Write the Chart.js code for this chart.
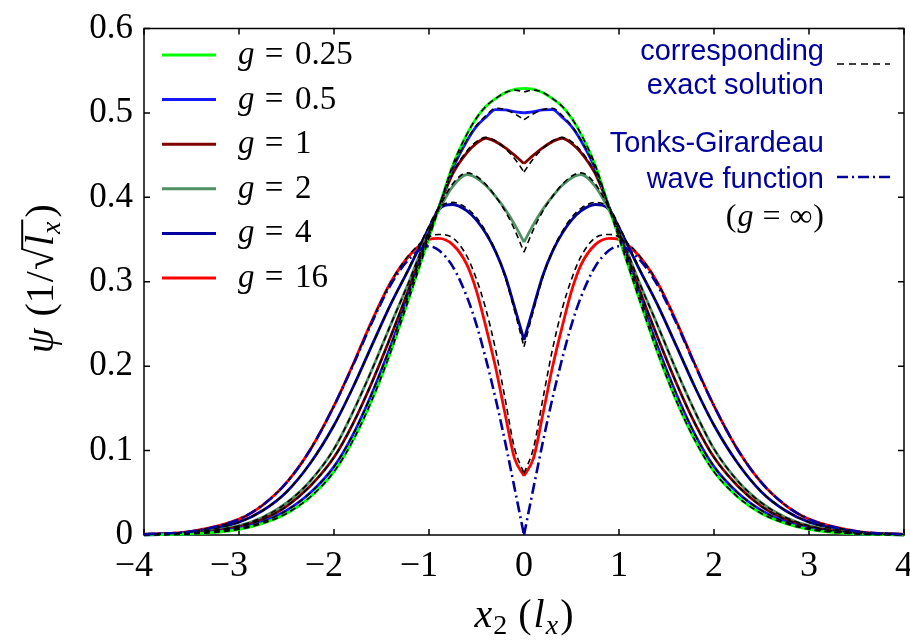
<!DOCTYPE html>
<html><head><meta charset="utf-8">
<script src="https://cdn.jsdelivr.net/npm/chart.js@4/dist/chart.umd.min.js"></script>
<style>html,body{margin:0;padding:0;background:#fff}canvas{display:block}</style>
</head><body>
<canvas id="c" width="910" height="641"></canvas>
<script>
// ---------- data ----------
const xGrid = [-4, -3.5, -3, -2.75, -2.5, -2.25, -2, -1.8, -1.6, -1.4, -1.2, -1, -0.9, -0.75, -0.6, -0.5, -0.4, -0.3, -0.2, -0.1, 0,
               0.1, 0.2, 0.3, 0.4, 0.5, 0.6, 0.75, 0.9, 1, 1.2, 1.4, 1.6, 1.8, 2, 2.25, 2.5, 2.75, 3, 3.5, 4];
const gLabels = ['0.25', '0.5', '1', '2', '4', '16'];
const xTicks = [-4, -3, -2, -1, 0, 1, 2, 3, 4];
const yTicks = [0, 0.1, 0.2, 0.3, 0.4, 0.5, 0.6];

const psi_g025 = [0.0002, 0.0013, 0.0068, 0.0138, 0.0255, 0.045, 0.075, 0.112, 0.160, 0.218, 0.284, 0.352, 0.386, 0.438, 0.475, 0.494, 0.508, 0.517, 0.524, 0.528, 0.529,
                  0.528, 0.524, 0.517, 0.508, 0.494, 0.475, 0.438, 0.386, 0.352, 0.284, 0.218, 0.160, 0.112, 0.075, 0.045, 0.0255, 0.0138, 0.0068, 0.0013, 0.0002];
const exact_g025 = [0.0002, 0.0013, 0.0068, 0.0138, 0.0255, 0.045, 0.075, 0.112, 0.160, 0.218, 0.284, 0.352, 0.386, 0.438, 0.475, 0.494, 0.508, 0.517, 0.524, 0.527, 0.525,
                  0.527, 0.524, 0.517, 0.508, 0.494, 0.475, 0.438, 0.386, 0.352, 0.284, 0.218, 0.160, 0.112, 0.075, 0.045, 0.0255, 0.0138, 0.0068, 0.0013, 0.0002];

const psi_g05 = [0.0002, 0.0015, 0.0079, 0.0155, 0.029, 0.050, 0.081, 0.119, 0.168, 0.225, 0.289, 0.355, 0.387, 0.434, 0.467, 0.484, 0.495, 0.504, 0.5035, 0.5015, 0.500,
                 0.5015, 0.5035, 0.504, 0.495, 0.484, 0.467, 0.434, 0.387, 0.355, 0.289, 0.225, 0.168, 0.119, 0.081, 0.050, 0.029, 0.0155, 0.0079, 0.0015, 0.0002];
const exact_g05 = [0.0002, 0.0015, 0.0079, 0.0155, 0.029, 0.050, 0.081, 0.119, 0.168, 0.225, 0.289, 0.355, 0.387, 0.435, 0.468, 0.485, 0.497, 0.5055, 0.504, 0.499, 0.492,
                 0.499, 0.504, 0.5055, 0.497, 0.485, 0.468, 0.435, 0.387, 0.355, 0.289, 0.225, 0.168, 0.119, 0.081, 0.050, 0.029, 0.0155, 0.0079, 0.0015, 0.0002];

const psi_g1 = [0.0003, 0.0020, 0.0095, 0.0185, 0.034, 0.058, 0.092, 0.132, 0.181, 0.236, 0.295, 0.358, 0.387, 0.428, 0.453, 0.464, 0.470, 0.466, 0.459, 0.450, 0.440,
                0.450, 0.459, 0.466, 0.470, 0.464, 0.453, 0.428, 0.387, 0.358, 0.295, 0.236, 0.181, 0.132, 0.092, 0.058, 0.034, 0.0185, 0.0095, 0.0020, 0.0003];
const exact_g1 = [0.0003, 0.0020, 0.0095, 0.0185, 0.034, 0.058, 0.092, 0.132, 0.181, 0.236, 0.295, 0.358, 0.388, 0.429, 0.455, 0.466, 0.471, 0.467, 0.458, 0.446, 0.430,
                0.446, 0.458, 0.467, 0.471, 0.466, 0.455, 0.429, 0.388, 0.358, 0.295, 0.236, 0.181, 0.132, 0.092, 0.058, 0.034, 0.0185, 0.0095, 0.0020, 0.0003];

const psi_g2 = [0.0004, 0.0024, 0.011, 0.021, 0.038, 0.064, 0.102, 0.146, 0.196, 0.250, 0.303, 0.360, 0.384, 0.413, 0.427, 0.423, 0.414, 0.401, 0.386, 0.368, 0.347,
                0.368, 0.386, 0.401, 0.414, 0.423, 0.427, 0.413, 0.384, 0.360, 0.303, 0.250, 0.196, 0.146, 0.102, 0.064, 0.038, 0.021, 0.011, 0.0024, 0.0004];
const exact_g2 = [0.0004, 0.0024, 0.011, 0.021, 0.038, 0.064, 0.102, 0.146, 0.196, 0.250, 0.303, 0.361, 0.386, 0.416, 0.429, 0.425, 0.415, 0.401, 0.384, 0.362, 0.335,
                0.362, 0.384, 0.401, 0.415, 0.425, 0.429, 0.416, 0.386, 0.361, 0.303, 0.250, 0.196, 0.146, 0.102, 0.064, 0.038, 0.021, 0.011, 0.0024, 0.0004];

const psi_g4 = [0.0006, 0.0033, 0.0152, 0.029, 0.051, 0.085, 0.130, 0.175, 0.225, 0.274, 0.318, 0.364, 0.385, 0.3915, 0.384, 0.373, 0.357, 0.336, 0.308, 0.270, 0.231,
                0.270, 0.308, 0.336, 0.357, 0.373, 0.384, 0.3915, 0.385, 0.364, 0.318, 0.274, 0.225, 0.175, 0.130, 0.085, 0.051, 0.029, 0.0152, 0.0033, 0.0006];
const exact_g4 = [0.0006, 0.0033, 0.0152, 0.029, 0.051, 0.085, 0.130, 0.175, 0.225, 0.274, 0.319, 0.366, 0.387, 0.394, 0.387, 0.376, 0.359, 0.337, 0.306, 0.266, 0.223,
                0.266, 0.306, 0.337, 0.359, 0.376, 0.387, 0.394, 0.387, 0.366, 0.319, 0.274, 0.225, 0.175, 0.130, 0.085, 0.051, 0.029, 0.0152, 0.0033, 0.0006];

const psi_g16 = [0.0008, 0.0043, 0.0188, 0.0355, 0.062, 0.101, 0.153, 0.202, 0.254, 0.300, 0.332, 0.350, 0.3515, 0.344, 0.320, 0.289, 0.246, 0.199, 0.144, 0.091, 0.070,
                 0.091, 0.144, 0.199, 0.246, 0.289, 0.320, 0.344, 0.3515, 0.350, 0.332, 0.300, 0.254, 0.202, 0.153, 0.101, 0.062, 0.0355, 0.0188, 0.0043, 0.0008];
const exact_g16 = [0.0008, 0.0043, 0.0188, 0.0355, 0.062, 0.101, 0.153, 0.202, 0.254, 0.300, 0.333, 0.353, 0.356, 0.352, 0.330, 0.303, 0.267, 0.220, 0.162, 0.103, 0.073,
                 0.103, 0.162, 0.220, 0.267, 0.303, 0.330, 0.352, 0.356, 0.353, 0.333, 0.300, 0.254, 0.202, 0.153, 0.101, 0.062, 0.0355, 0.0188, 0.0043, 0.0008];

const psi_TG = [0.0008, 0.0043, 0.0188, 0.0355, 0.062, 0.101, 0.153, 0.201, 0.252, 0.297, 0.328, 0.342, 0.3375, 0.318, 0.282, 0.249, 0.208, 0.162, 0.111, 0.056, 0,
                0.056, 0.111, 0.162, 0.208, 0.249, 0.282, 0.318, 0.3375, 0.342, 0.328, 0.297, 0.252, 0.201, 0.153, 0.101, 0.062, 0.0355, 0.0188, 0.0043, 0.0008];

// ---------- styles ----------
const solidSeries = [psi_g025, psi_g05, psi_g1, psi_g2, psi_g4, psi_g16];
const exactSeries = [exact_g025, exact_g05, exact_g1, exact_g2, exact_g4, exact_g16];
const colors = ['#00ff00', '#1717ff', '#800000', '#4f9162', '#00009f', '#ff0000'];
const navy = '#00009f';
const SERIF = '"Liberation Serif", "Times New Roman", serif';
const SANS = '"Liberation Sans", Arial, sans-serif';

function halves(vals) {
  const left = [], right = [];
  xGrid.forEach((x, i) => {
    if (x <= 0) left.push({x: x, y: vals[i]});
    if (x >= 0) right.push({x: x, y: vals[i]});
  });
  return [left, right];
}

const datasets = [];
function addCurve(vals, style) {
  halves(vals).forEach(d => datasets.push(Object.assign({data: d, pointRadius: 0, fill: false,
    cubicInterpolationMode: 'monotone', clip: false}, style)));
}
solidSeries.forEach((s, i) => addCurve(s, {borderColor: colors[i], borderWidth: 2.8, order: 3}));
exactSeries.forEach(s => addCurve(s, {borderColor: '#000', borderWidth: 1.6, borderDash: [6, 4], order: 2}));
addCurve(psi_TG, {borderColor: navy, borderWidth: 2.6, borderDash: [11, 4, 2, 4], order: 1});

function drawPieces(ctx, pieces, startX, baseY) {
  let xx = startX;
  pieces.forEach(p => {
    xx += (p.gapBefore || 0);
    ctx.font = p.f;
    ctx.fillText(p.t, xx, baseY + (p.dy || 0));
    p.x0 = xx;
    p.m = ctx.measureText(p.t);
    xx += p.m.width;
    p.x1 = xx;
  });
  return xx;
}
function piecesWidth(ctx, pieces) {
  let w = 0;
  pieces.forEach(p => { ctx.font = p.f; w += (p.gapBefore || 0) + ctx.measureText(p.t).width; });
  return w;
}

const decor = {
  id: 'decor',
  beforeDatasetsDraw(chart) {
    const {ctx, chartArea: a, scales: {x, y}} = chart;
    ctx.save();
    ctx.strokeStyle = '#000';
    ctx.lineWidth = 1.5;
    ctx.strokeRect(a.left, a.top, a.right - a.left, a.bottom - a.top);
    ctx.beginPath();
    xTicks.forEach(v => {
      const px = x.getPixelForValue(v);
      ctx.moveTo(px, a.bottom); ctx.lineTo(px, a.bottom - 6);
      ctx.moveTo(px, a.top); ctx.lineTo(px, a.top + 6);
    });
    yTicks.forEach(v => {
      const py = y.getPixelForValue(v);
      ctx.moveTo(a.left, py); ctx.lineTo(a.left + 6, py);
      ctx.moveTo(a.right, py); ctx.lineTo(a.right - 6, py);
    });
    ctx.stroke();
    ctx.restore();
  },
  afterDraw(chart) {
    const {ctx, chartArea: a, scales: {x}} = chart;
    ctx.save();
    ctx.fillStyle = '#000';
    ctx.textBaseline = 'alphabetic';

    // x tick labels (digit centred under tick, minus hanging left)
    ctx.font = '36px ' + SERIF;
    ctx.textAlign = 'right';
    xTicks.forEach(v => {
      const digits = String(Math.abs(v));
      const lab = v < 0 ? '\u2212' + digits : digits;
      const dw = ctx.measureText(digits).width;
      ctx.fillText(lab, x.getPixelForValue(v) + dw / 2, a.bottom + 41);
    });
    ctx.textAlign = 'left';

    // x axis title
    const xt = [
      {t: 'x', f: 'italic 40px ' + SERIF},
      {t: '2', f: '28px ' + SERIF, dy: 7, gapBefore: 1},
      {t: '(', f: '40px ' + SERIF, gapBefore: 11},
      {t: 'l', f: 'italic 40px ' + SERIF, gapBefore: 2},
      {t: 'x', f: 'italic 28px ' + SERIF, dy: 7, gapBefore: 1},
      {t: ')', f: '40px ' + SERIF, gapBefore: 2}
    ];
    const xcx = (a.left + a.right) / 2;
    drawPieces(ctx, xt, xcx - piecesWidth(ctx, xt) / 2, 627);

    // y axis title (rotated)
    ctx.save();
    ctx.translate(53, (a.top + a.bottom) / 2 - 3);
    ctx.rotate(-Math.PI / 2);
    const yt = [
      {t: '\u03C8', f: 'italic 40px ' + SERIF},
      {t: '(', f: '40px ' + SERIF, gapBefore: 12},
      {t: '1', f: '40px ' + SERIF},
      {t: '/', f: '40px ' + SERIF, gapBefore: 1},
      {t: '\u221A', f: '40px ' + SERIF, gapBefore: 1},
      {t: 'l', f: 'italic 40px ' + SERIF, gapBefore: 2},
      {t: 'x', f: 'italic 28px ' + SERIF, dy: 7, gapBefore: 1},
      {t: ')', f: '40px ' + SERIF, gapBefore: 4}
    ];
    drawPieces(ctx, yt, -piecesWidth(ctx, yt) / 2, 0);
    const rad = yt[4];
    const barY = -rad.m.actualBoundingBoxAscent + 1.2;
    ctx.lineWidth = 2;
    ctx.strokeStyle = '#000';
    ctx.beginPath();
    ctx.moveTo(rad.x1 - 1.5, barY);
    ctx.lineTo(yt[6].x1 + 2, barY);
    ctx.stroke();
    ctx.restore();

    // left legend
    gLabels.forEach((g, i) => {
      const ly = 55 + i * 44.6;
      ctx.save();
      ctx.strokeStyle = colors[i];
      ctx.lineWidth = 3;
      ctx.beginPath(); ctx.moveTo(162, ly); ctx.lineTo(216, ly); ctx.stroke();
      ctx.restore();
      ctx.font = 'italic 33px ' + SERIF;
      ctx.textAlign = 'left';
      ctx.fillText('g', 238, ly + 9);
      ctx.font = '33px ' + SERIF;
      ctx.textAlign = 'center';
      ctx.fillText('=', 274, ly + 9);
      ctx.textAlign = 'left';
      ctx.fillText(g, 295, ly + 9);
    });

    // right annotations
    ctx.fillStyle = navy;
    ctx.font = '29px ' + SANS;
    ctx.textAlign = 'right';
    ctx.fillText('corresponding', 824, 60);
    ctx.fillText('exact solution', 824, 94);
    ctx.fillText('Tonks-Girardeau', 824, 152);
    ctx.fillText('wave function', 824, 188);
    ctx.textAlign = 'left';
    ctx.fillStyle = '#000';
    const inf = [
      {t: '(', f: '32px ' + SERIF},
      {t: 'g', f: 'italic 32px ' + SERIF, gapBefore: 1},
      {t: '=', f: '32px ' + SERIF, gapBefore: 9},
      {t: '\u221E', f: '32px ' + SERIF, gapBefore: 9},
      {t: ')', f: '32px ' + SERIF, gapBefore: 1}
    ];
    drawPieces(ctx, inf, 824 - piecesWidth(ctx, inf), 226);

    ctx.save();
    ctx.strokeStyle = '#000'; ctx.lineWidth = 1.6; ctx.setLineDash([7, 5]);
    ctx.beginPath(); ctx.moveTo(837, 64); ctx.lineTo(890, 64); ctx.stroke();
    ctx.strokeStyle = navy; ctx.lineWidth = 2.6; ctx.setLineDash([11, 4, 2, 4]);
    ctx.beginPath(); ctx.moveTo(837, 177); ctx.lineTo(890, 177); ctx.stroke();
    ctx.restore();

    ctx.restore();
  }
};

new Chart(document.getElementById('c'), {
  type: 'line',
  data: {datasets: datasets},
  options: {
    responsive: false,
    animation: false,
    parsing: true,
    layout: {padding: {top: 19, right: 6, left: 0, bottom: 0}},
    plugins: {legend: {display: false}, tooltip: {enabled: false}},
    elements: {point: {radius: 0}},
    scales: {
      x: {
        type: 'linear', min: -4, max: 4,
        afterBuildTicks: s => { s.ticks = xTicks.map(v => ({value: v})); },
        ticks: {display: false},
        grid: {display: false, drawTicks: false},
        border: {display: false},
        afterFit: s => { s.height = 106; }
      },
      y: {
        type: 'linear', min: 0, max: 0.6,
        afterBuildTicks: s => { s.ticks = yTicks.map(v => ({value: v})); },
        ticks: {
          color: '#000', padding: 11,
          font: {family: SERIF, size: 35, lineHeight: 1},
          callback: v => (v === 0 ? '0' : Number(v).toFixed(1))
        },
        grid: {display: false, drawTicks: false},
        border: {display: false},
        afterFit: s => { s.width = 144; }
      }
    }
  },
  plugins: [decor]
});
</script>
</body></html>
